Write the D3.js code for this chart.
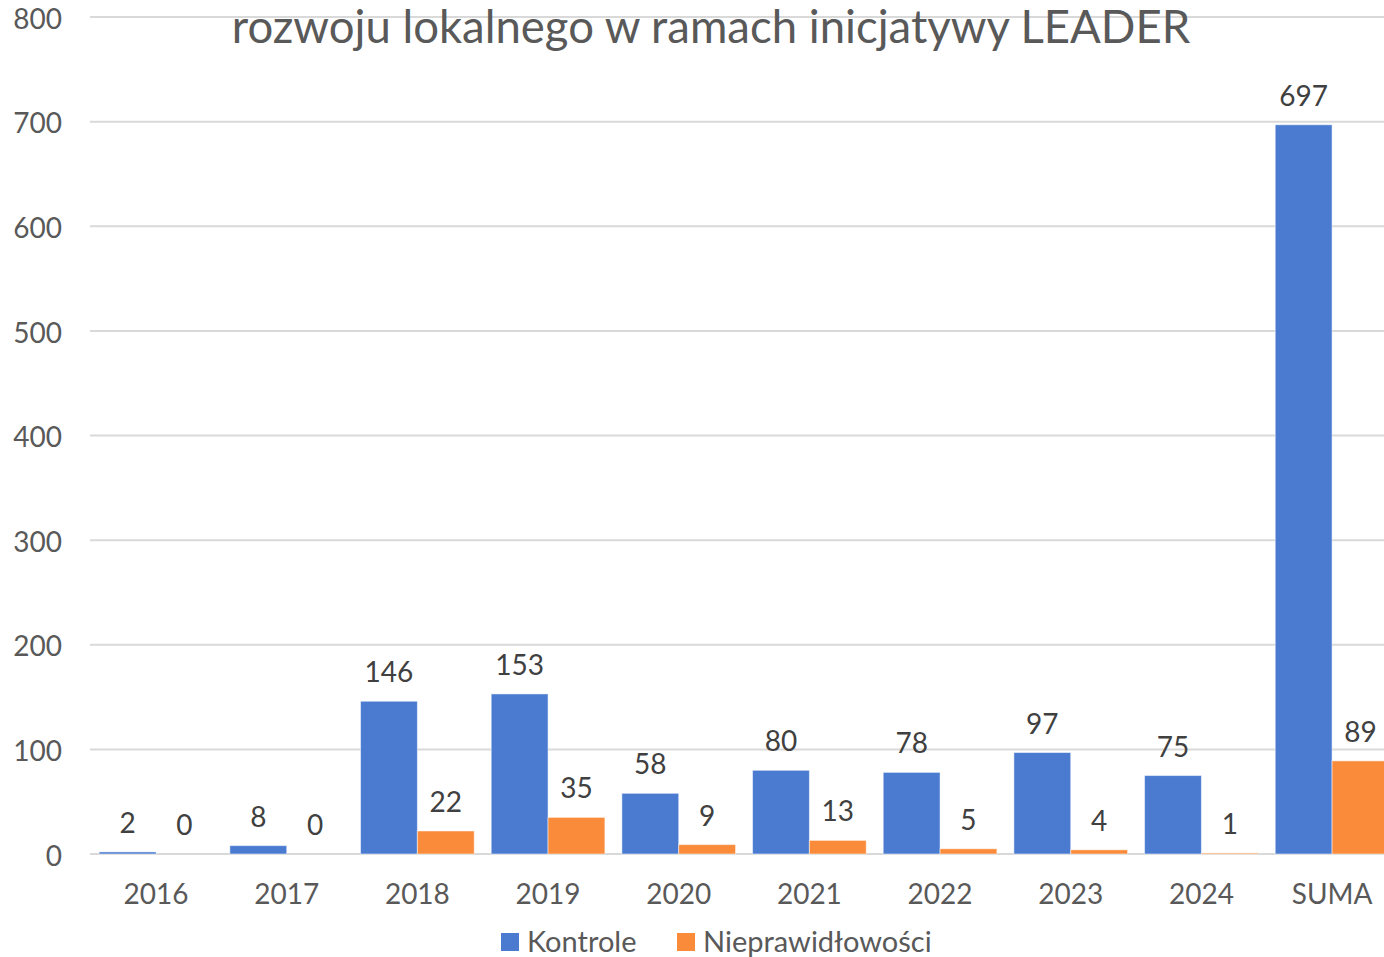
<!DOCTYPE html>
<html>
<head>
<meta charset="utf-8">
<script src="https://cdn.jsdelivr.net/npm/d3@7"></script>
<style>
  body { margin: 0; background: #fff; }
  svg { font-family: Lato, "Open Sans", sans-serif; }
</style>
</head>
<body>
<div id="chart"></div>
<script>
const categories = ["2016", "2017", "2018", "2019", "2020", "2021", "2022", "2023", "2024", "SUMA"];
const kontrole = [2, 8, 146, 153, 58, 80, 78, 97, 75, 697];
const nieprawidlowosci = [0, 0, 22, 35, 9, 13, 5, 4, 1, 89];
const seriesNames = ["Kontrole", "Nieprawidłowości"];
const seriesColors = ["#4a7bd0", "#f98b3b"];
const yTicks = [0, 100, 200, 300, 400, 500, 600, 700, 800];
const titleText = "rozwoju lokalnego w ramach inicjatywy LEADER";

const width = 1384, height = 957;
const svg = d3.select("#chart").append("svg")
    .attr("width", width)
    .attr("height", height);

const x0 = d3.scaleBand()
    .domain(categories)
    .range([90.7, 1397.4]);

const x1 = d3.scaleBand()
    .domain(seriesNames)
    .range([8.5, x0.bandwidth() - 8.5]);

const y = d3.scaleLinear()
    .domain([0, 800])
    .range([854, 17]);

// gridlines
svg.append("g")
    .selectAll("line")
    .data(yTicks)
    .join("line")
    .attr("x1", 90)
    .attr("x2", width)
    .attr("y1", d => y(d))
    .attr("y2", d => y(d))
    .attr("stroke", "#d9d9d9")
    .attr("stroke-width", 2);

// y axis labels
const yAxis = svg.append("g")
    .attr("transform", "translate(62,0)")
    .call(d3.axisLeft(y).tickValues(yTicks).tickSize(0).tickPadding(0));
yAxis.select(".domain").remove();
yAxis.selectAll("text")
    .attr("fill", "#595959")
    .attr("dy", "0.4em")
    .style("font-size", "28px")
    .style("font-family", "Lato, sans-serif");

// x axis labels
const xAxis = svg.append("g")
    .attr("transform", "translate(0,884)")
    .call(d3.axisBottom(x0).tickSize(0).tickPadding(0));
xAxis.select(".domain").remove();
xAxis.selectAll("text")
    .attr("fill", "#595959")
    .attr("dy", "0.71em")
    .style("font-size", "28px")
    .style("font-family", "Lato, sans-serif");

const rows = categories.map((c, i) => ({
    cat: c,
    values: [
        { key: seriesNames[0], value: kontrole[i], color: seriesColors[0] },
        { key: seriesNames[1], value: nieprawidlowosci[i], color: seriesColors[1] }
    ]
}));

const groups = svg.append("g")
    .selectAll("g")
    .data(rows)
    .join("g")
    .attr("transform", d => `translate(${x0(d.cat)},0)`);

groups.selectAll("rect")
    .data(d => d.values)
    .join("rect")
    .attr("x", d => x1(d.key))
    .attr("width", x1.bandwidth())
    .attr("y", d => y(d.value))
    .attr("height", d => y(0) - y(d.value))
    .attr("fill", d => d.color)
    .attr("stroke", "#ffffff")
    .attr("stroke-opacity", 0.5)
    .attr("stroke-width", 1);

groups.selectAll("text")
    .data(d => d.values)
    .join("text")
    .attr("x", d => x1(d.key) + x1.bandwidth() / 2)
    .attr("y", d => y(d.value) - 19)
    .attr("text-anchor", "middle")
    .attr("fill", "#404040")
    .style("font-size", "28px")
    .text(d => d.value);

// title
svg.append("text")
    .attr("x", 711)
    .attr("y", 43)
    .attr("text-anchor", "middle")
    .attr("fill", "#595959")
    .style("font-size", "45.5px")
    .text(titleText);

// legend
const legendX = [501, 677];
const legend = svg.append("g")
    .selectAll("g")
    .data(seriesNames)
    .join("g")
    .attr("transform", (d, i) => `translate(${legendX[i]},933)`);

legend.append("rect")
    .attr("width", 18)
    .attr("height", 18)
    .attr("fill", (d, i) => seriesColors[i]);

legend.append("text")
    .attr("x", 26)
    .attr("y", 19)
    .attr("fill", "#595959")
    .style("font-size", "29px")
    .text(d => d);
</script>
</body>
</html>
